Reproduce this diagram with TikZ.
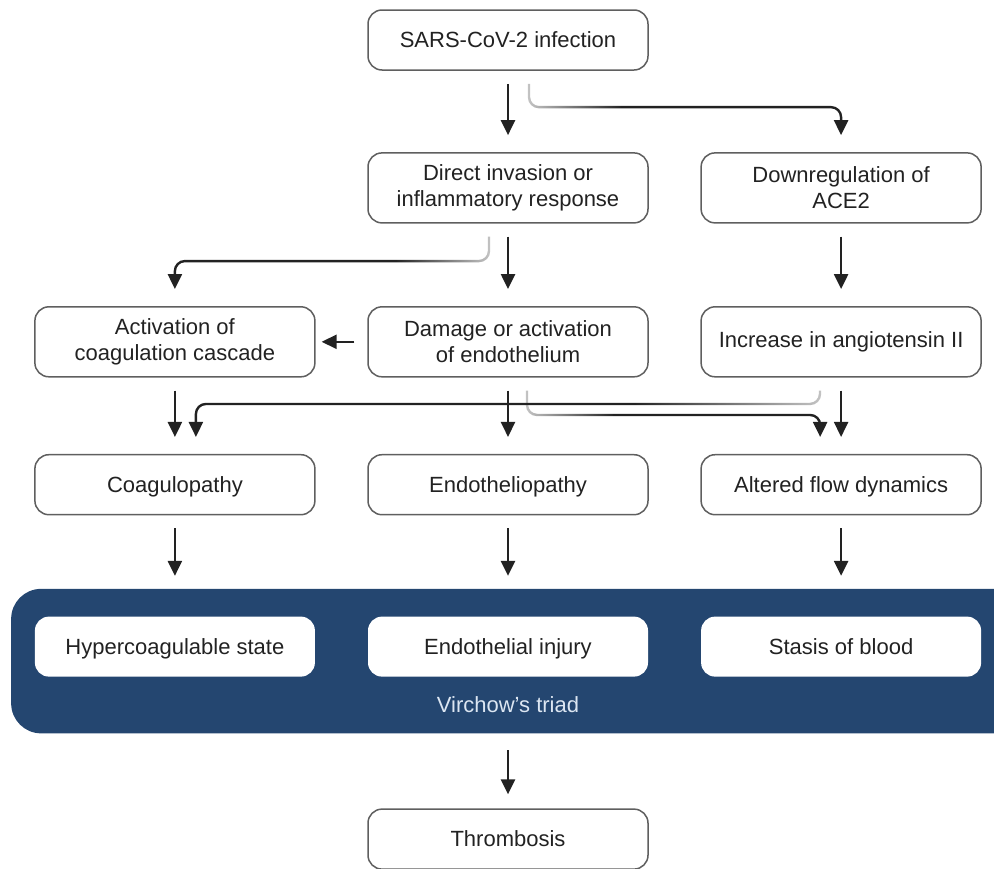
\documentclass[tikz,border=0pt]{standalone}
\usepackage{fontspec}
\setmainfont{Liberation Sans}
\usetikzlibrary{positioning}
\usetikzlibrary{arrows.meta}
\usetikzlibrary{fadings}
\usetikzlibrary{backgrounds}
\definecolor{triadblue}{RGB}{36,70,112}
\definecolor{triadtext}{RGB}{220,230,242}
\definecolor{arrowgray}{RGB}{34,34,34}
\definecolor{edgegray}{RGB}{95,95,95}
\begin{tikzfadingfrompicture}[name=fade from left]
	\shade[left color=transparent!90, right color=transparent!0] (-1cm,-1cm) rectangle (-0.35cm,1cm);
	\fill[transparent!0] (-0.36cm,-1cm) rectangle (1cm,1cm);
\end{tikzfadingfrompicture}
\begin{tikzfadingfrompicture}[name=fade from right]
	\shade[left color=transparent!0, right color=transparent!90] (0.35cm,-1cm) rectangle (1cm,1cm);
	\fill[transparent!0] (-1cm,-1cm) rectangle (0.36cm,1cm);
\end{tikzfadingfrompicture}

\begin{document}
\begin{tikzpicture}[x=0.5pt,y=-0.5pt,node distance=25.8pt,
			frame/.style={draw=edgegray,line width=0.75pt,rounded corners=7pt,align=center,minimum width=140pt,minimum height=30pt,font=\fontsize{11}{13}\selectfont,text=arrowgray,fill=white},
			box/.style={frame,text height=8pt,text depth=0.3pt},
			tall/.style={frame,minimum height=35pt},
			inner/.style={box,draw=none},
			arr/.style={-{Triangle[width=7pt,length=7.5pt]},line width=1.2pt,draw=arrowgray,shorten <=6.5pt,shorten >=8.5pt},
			elbow/.style={arr,rounded corners=5pt}]
			\useasboundingbox (0,0) rectangle (994,868);
			\node[box] (sars) at (508,40) {SARS-CoV-2 infection};
			\node[tall, below=40.7pt of sars] (direct) {Direct invasion or \\ inflammatory response};
			\node[tall, right=of direct] (ace2) {Downregulation of \\ ACE2};
			\node[tall, below=41.2pt of direct] (damage) {Damage or activation \\ of endothelium};
			\node[tall, left=of damage] (activation) {Activation of \\ coagulation cascade};
			\node[tall, right=of damage] (increase) {Increase in angiotensin II};
			\node[box, below=38.2pt of damage] (endo) {Endotheliopathy};
			\node[box, left=of endo] (coagulopathy) {Coagulopathy};
			\node[box, right=of endo] (altered) {Altered flow dynamics};
			\node[inner, below=50.2pt of endo] (injury) {Endothelial injury};
			\node[inner, left=of injury] (hyper) {Hypercoagulable state};
			\node[inner, right=of injury] (stasis) {Stasis of blood};
			\node[font=\fontsize{11}{13}\selectfont, text=triadtext] (triad) at (508,705) {Virchow's triad};
			\node[box, below=65.5pt of injury] (thrombosis) {Thrombosis};
			\begin{scope}[on background layer]
				\fill[triadblue, rounded corners=15pt] ([xshift=-11.5pt,yshift=13.5pt]hyper.north west) rectangle ([xshift=20pt,yshift=-28pt]stasis.south east);
			\end{scope}
			\draw[arr] (sars) -- (direct);
			\draw[elbow, path fading=fade from left] ([xshift=10.5pt]sars.south) |- ([yshift=22.5pt]ace2.north) -- (ace2.north);
			\draw[arr] (direct) -- (damage);
			\draw[elbow, path fading=fade from right] ([xshift=-9.5pt]direct.south) |- ([yshift=22.5pt]activation.north) -- (activation.north);
			\draw[arr] (ace2) -- (increase);
			\draw[arr, shorten >=3pt] (damage) -- (activation);
			\draw[arr] (activation) -- (coagulopathy);
			\draw[elbow, path fading=fade from right] ([xshift=-10.5pt]increase.south) |- ([xshift=10.5pt,yshift=25pt]coagulopathy.north) -- ([xshift=10.5pt]coagulopathy.north);
			\draw[arr] (damage) -- (endo);
			\draw[elbow, path fading=fade from left] ([xshift=9.5pt]damage.south) |- ([xshift=-10.5pt,yshift=19.5pt]altered.north) -- ([xshift=-10.5pt]altered.north);
			\draw[arr] (increase) -- (altered);
			\draw[arr, shorten >=20pt] (coagulopathy) -- (hyper);
			\draw[arr, shorten >=20pt] (endo) -- (injury);
			\draw[arr, shorten >=20pt] (altered) -- (stasis);
			\draw[arr, shorten <=36.5pt, shorten >=7pt] (injury) -- (thrombosis);
		\end{tikzpicture}
\end{document}
